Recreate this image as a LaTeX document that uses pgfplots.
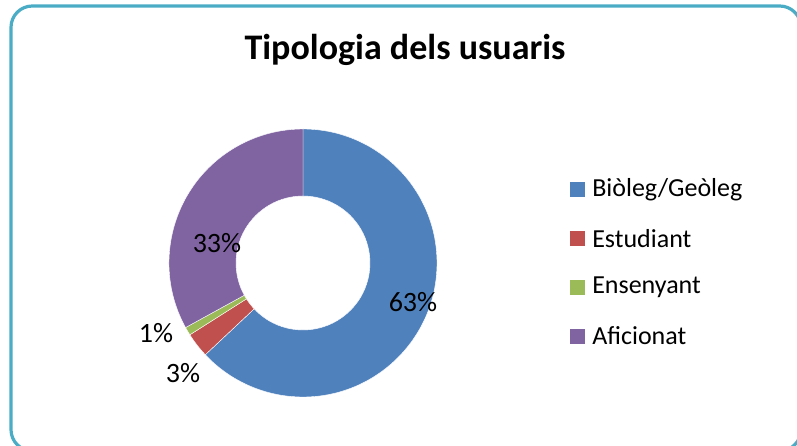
\documentclass[border=0pt]{standalone}
\usepackage{pgfplots}
\usepackage{pgfplotstable}
\pgfplotsset{compat=1.18}
\usepackage{fontspec}
\setmainfont{Carlito}

\definecolor{c1}{HTML}{4F81BD}
\definecolor{c2}{HTML}{C0504D}
\definecolor{c3}{HTML}{9BBB59}
\definecolor{c4}{HTML}{8064A2}
\definecolor{frame}{HTML}{4BACC6}

% share of each user type (percent)
\pgfplotstableread{
label          value  col  lx   ly
Biòleg/Geòleg  63     c1   413  144
Estudiant      3      c2   183  73
Ensenyant      1      c3   156  113
Aficionat      33     c4   217  203
}\usuaris

% donut geometry, in pixel units of the axis (1 unit = 0.75pt)
\def\cx{303}\def\cy{183}
\def\ro{134}\def\ri{67}

\begin{document}
\begin{tikzpicture}
\begin{axis}[
    width=597.75pt, height=334.5pt,
    scale only axis,
    xmin=0, xmax=797, ymin=0, ymax=446,
    hide axis,
]
% frame of the chart area
\draw[frame, line width=2.4pt, rounded corners=16pt]
    (axis cs:11,440) rectangle (axis cs:801,-5);

\node[font=\bfseries\fontsize{27}{30}\selectfont, anchor=base]
    at (axis cs:405,386) {Tipologia dels usuaris};

% wedges, clockwise from 12 o'clock
\pgfplotstablegetrowsof{\usuaris}
\pgfmathtruncatemacro{\nrows}{\pgfplotsretval-1}
\gdef\angstart{90}
\pgfplotsinvokeforeach{0,...,\nrows}{
    \pgfplotstablegetelem{#1}{value}\of{\usuaris}
    \pgfmathsetmacro{\angend}{\angstart-3.6*\pgfplotsretval}
    \pgfplotstablegetelem{#1}{col}\of{\usuaris}
    \let\wcol\pgfplotsretval
    \pgfplotstablegetelem{#1}{value}\of{\usuaris}
    \let\wval\pgfplotsretval
    \pgfplotstablegetelem{#1}{lx}\of{\usuaris}
    \let\wlx\pgfplotsretval
    \pgfplotstablegetelem{#1}{ly}\of{\usuaris}
    \let\wly\pgfplotsretval
    \pgfplotstablegetelem{#1}{label}\of{\usuaris}
    \let\wlab\pgfplotsretval
    \pgfmathsetmacro{\xa}{\cx+\ro*cos(\angstart)}
    \pgfmathsetmacro{\ya}{\cy+\ro*sin(\angstart)}
    \pgfmathsetmacro{\xb}{\cx+\ri*cos(\angend)}
    \pgfmathsetmacro{\yb}{\cy+\ri*sin(\angend)}
    \pgfmathsetmacro{\ly}{256-48.7*#1}
    \edef\wedge{
        \noexpand\fill[\wcol, draw=white, line width=0.3pt]
        (axis cs:\xa,\ya) arc[start angle=\angstart, end angle=\angend, radius=100.5pt]
        -- (axis cs:\xb,\yb) arc[start angle=\angend, end angle=\angstart, radius=50.25pt]
        -- cycle;
        \noexpand\node[font=\noexpand\fontsize{21}{24}\noexpand\selectfont]
            at (axis cs:\wlx,\wly) {\wval\noexpand\%};
        \noexpand\fill[\wcol] (axis cs:570,\ly-7.5) rectangle (axis cs:585,\ly+7.5);
        \noexpand\node[anchor=west, inner sep=0pt, font=\noexpand\fontsize{19.5}{22}\noexpand\selectfont]
            at (axis cs:592,\ly) {\unexpanded\expandafter{\wlab}};
    }
    \wedge
    \xdef\angstart{\angend}
}
\end{axis}
\pgfresetboundingbox
\path[use as bounding box] (current axis.south west) rectangle (current axis.north east);
\end{tikzpicture}
\end{document}
